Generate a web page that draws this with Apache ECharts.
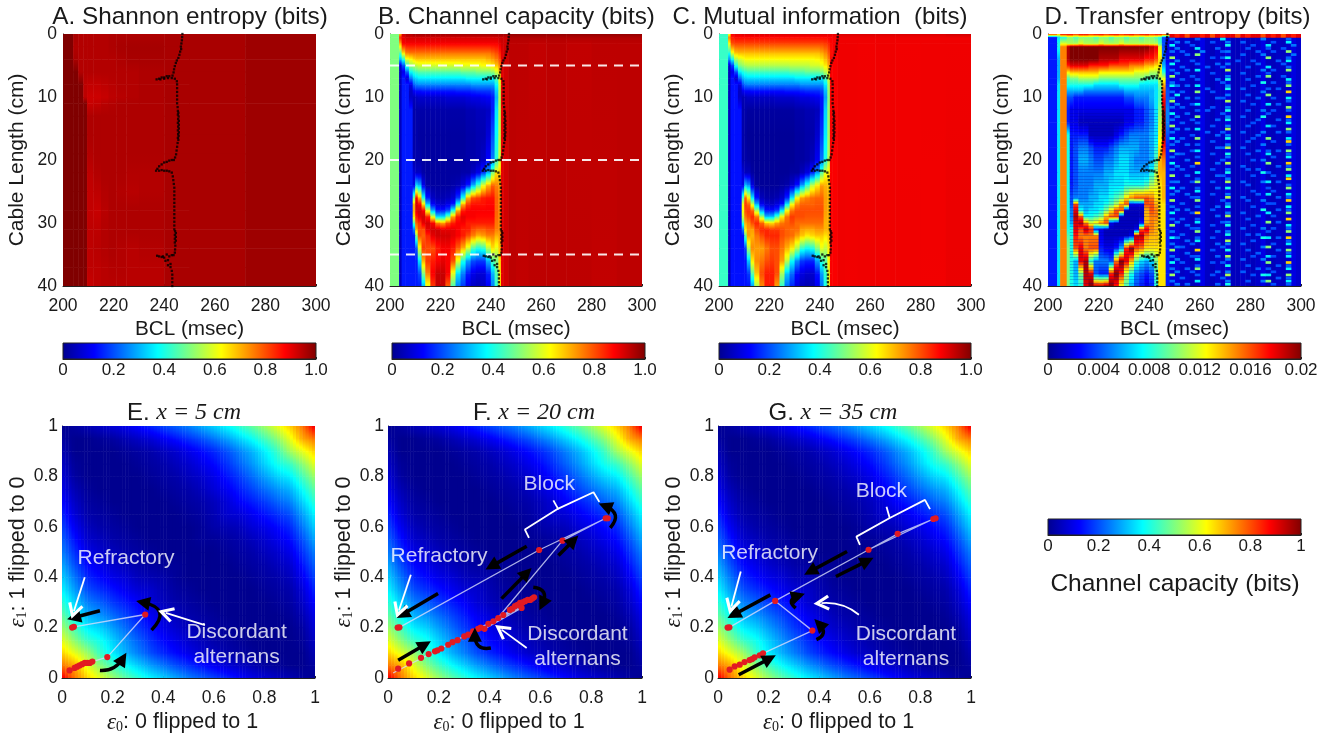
<!DOCTYPE html>
<html><head><meta charset="utf-8">
<style>html,body{margin:0;padding:0;background:#fff}#c{width:1343px;height:735px}</style>
<script src="https://cdn.jsdelivr.net/npm/echarts@6/dist/echarts.min.js"></script></head>
<body><div id="c"></div>
<script>
// ---------- DATA ----------
const panelTitles = ['A. Shannon entropy (bits)','B. Channel capacity (bits)','C. Mutual information  (bits)','D. Transfer entropy (bits)'];
const bclTicks = [200,300,20];
const cableTicks = [0,40,10];
// Panel A (percent of 1 bit)
const aX = [200,204,206,208,209.5,212,215,218,221,225,230,240,250,272,300];
const aY = [0,2,4,6,8,10,11,13,16,19,22,25,28,31,34,37,40];
const aM = [
[100,96,95,95,95,95,95,95.5,95.5,95.5,95.5,96,96,97],
[100,95,95,95,95,95,95,95.5,96,96.3,96.3,96,96,97],
[100,96,95,95,95,95,95,95,95.5,96,96,96,96,97],
[100,100,95,95,95,95,95,95,95,95,95.5,96,96,97],
[100,100,100,94,93.5,93.5,94,94.5,95,95,95.5,96,96,97],
[100,100,100,94,92.5,92.5,93,94,94.5,95,95.5,96,96,97],
[100,100,100,100,93,93.5,94.5,95,95.5,95.5,95.5,96,96,97],
[100,100,100,100,95.5,95.5,95.5,95.5,95.5,95.5,95.5,96,96,97],
[100,100,100,100,95.5,95.5,95.5,95.5,95.5,95.5,95.5,96,96,97],
[100,100,100,100,95,95.5,95.5,95.5,95.5,95.5,95.5,96,96,97],
[100,100,100,100,94,95,95.5,95.5,95.5,95,95,96,96,97],
[100,100,100,100,93.5,94,95,95.5,95,94.5,95,96,96,97],
[100,100,100,100,93.5,93,94.5,95.5,95.5,95.5,95.5,96,96,97],
[100,100,100,100,94,94,95,95.5,95.5,95.5,95.5,96,96,97],
[100,100,100,100,94,94.5,95,95.5,95,94.5,95,96,96,97],
[100,100,100,100,94,94,94.5,95,95,94.5,94.5,96,96,97],
[100,100,100,100,93,94,94.5,94.5,94.5,94.5,94.5,96,96,97]];
// Panels B and C share the sampling grid (percent of 1 bit)
const capX = [200,203.6,204.6,206,207.5,209,210,211,212.5,214,216,218,220,222,224,226,228,230,232,234,236,238,240,241.5,243,244,245];
const capY = [0,.5,1.5,3,4,5,6,7,8,9,10,12,16,20,22,24,26,27,28,29,30,31,32,34,36,38,40];
const bM = [
[50,70,92,95,95,97,97,97,97,97,97,97,97,97,97,97,97,97,97,97,97,97,97,97,97,97],
[50,85,90,92,92,92,92,92,92,92,92,92,92,92,92,92,92,92,92,92,92,92,92,92,93,93],
[50,70,88,88,88,88,88,88,88,88,88,88,88,88,88,88,88,88,88,88,88,88,88,88,90,92],
[50,45,65,75,76,76,76,76,76,76,76,76,76,76,76,76,76,76,76,76,76,76,78,80,84,90],
[50,30,40,60,62,66,68,68,68,68,68,68,68,68,68,68,68,68,68,68,68,70,72,75,80,90],
[50,8,20,42,52,54,56,58,58,58,58,58,58,58,58,58,60,60,60,60,62,62,64,68,75,90],
[50,5,10,22,38,42,44,46,46,46,46,46,46,46,46,46,48,48,48,50,50,50,52,58,68,90],
[50,5,15,8,24,32,34,36,36,36,36,36,36,36,36,36,36,38,38,38,38,38,38,46,62,90],
[50,5,15,15,10,22,25,26,26,26,26,26,26,26,26,26,26,26,28,28,28,28,28,38,58,90],
[50,5,15,15,6,12,14,14,15,15,15,15,15,15,15,16,16,16,17,18,18,18,20,33,55,90],
[50,5,15,15,6,5,6,7,7,7,7,7,7,8,8,8,8,9,10,10,11,12,15,30,54,90],
[50,5,15,15,15,3,3,3,3,3,3,3,3,3,3,3,3,4,4,5,5,6,15,35,55,90],
[50,5,15,15,15,3,3,2,2,2,2,2,2,2,2,2,2,3,3,4,4,8,20,38,56,90],
[50,5,15,15,15,3,3,3,2,2,2,2,2,2,2,2,2,3,3,4,6,12,25,42,58,90],
[50,5,15,15,15,8,6,6,3,2,2,2,2,2,2,2,3,3,6,10,18,30,50,65,68,90],
[50,5,15,15,15,10,35,30,10,3,2,2,2,2,3,4,8,15,30,45,60,70,78,75,72,90],
[50,5,15,15,15,50,88,70,40,15,6,4,4,5,8,18,40,70,80,82,85,86,86,78,74,90],
[50,5,15,15,15,70,92,88,65,32,12,8,7,10,15,40,70,82,86,86,86,87,87,78,74,90],
[50,5,15,15,15,70,90,92,88,60,30,15,15,20,40,70,85,88,88,88,88,88,88,78,74,90],
[50,5,15,15,15,65,85,90,92,85,60,35,35,50,72,85,90,88,88,87,87,87,87,77,74,90],
[50,5,15,15,15,45,78,82,90,92,88,75,72,80,85,88,88,85,85,85,85,85,85,76,74,90],
[50,5,15,15,15,25,70,80,80,90,92,92,90,90,90,88,85,85,80,78,78,80,80,75,74,90],
[50,5,15,15,15,15,50,80,78,84,90,92,92,92,90,88,85,80,75,70,72,75,75,70,72,90],
[50,5,15,15,15,15,20,60,82,80,80,85,88,88,85,78,70,58,45,40,42,55,65,60,68,90],
[50,5,15,15,15,15,15,35,70,82,85,88,90,88,80,60,40,28,20,18,18,30,45,50,66,90],
[50,5,15,15,15,15,15,20,50,75,88,93,93,88,60,35,25,15,10,8,8,15,30,45,64,90],
[50,5,15,15,15,15,15,15,30,60,82,93,93,78,45,25,18,10,6,5,6,12,25,42,64,90]];
const cM = [
[43,60,88,90,90,91,91,91,91,91,91,91,91,91,91,91,91,91,91,91,91,91,91,91,90,90],
[43,75,85,87,87,87,87,87,87,87,87,87,87,87,87,87,87,87,87,87,87,87,87,87,88,88],
[43,62,80,81,81,81,81,81,81,81,81,81,81,81,81,81,81,81,81,81,81,81,81,82,84,87],
[43,40,60,68,69,69,69,69,69,69,69,69,69,69,69,69,69,69,69,69,69,69,71,74,79,86],
[43,26,38,54,58,60,62,62,62,62,62,62,62,62,62,62,62,62,62,62,62,63,65,69,75,87],
[43,7,18,40,50,52,54,55,55,55,55,55,55,55,55,55,56,56,56,56,58,58,60,64,71,88],
[43,5,10,20,36,40,42,44,44,44,44,44,44,44,44,44,46,46,46,48,48,48,50,55,64,88],
[43,5,14,7,22,30,33,34,34,34,34,34,34,34,34,34,34,36,36,36,36,36,36,44,58,88],
[43,5,14,14,9,20,24,25,25,25,25,25,25,25,25,25,25,25,27,27,27,27,27,36,54,88],
[43,5,14,14,6,11,13,13,14,14,14,14,14,14,14,15,15,15,16,17,17,17,19,31,52,88],
[43,5,14,14,6,4,5,6,6,6,6,6,6,7,7,7,7,8,9,9,10,11,14,28,50,88],
[43,5,14,14,14,3,3,2,2,2,2,2,2,2,2,2,2,3,3,4,4,5,14,33,52,88],
[43,5,14,14,14,3,2,1,1,1,1,1,1,1,1,1,1,2,2,3,3,7,18,36,53,88],
[43,5,14,14,14,3,3,2,1,1,1,1,1,1,1,1,1,2,2,3,5,11,24,40,55,88],
[43,5,14,14,14,8,5,5,2,1,1,1,1,1,1,1,2,2,5,9,16,28,46,60,64,88],
[43,5,14,14,14,10,32,27,9,2,1,1,1,1,2,3,7,14,28,42,56,64,72,70,68,88],
[43,5,14,14,14,46,78,64,36,14,5,3,3,4,7,16,36,62,72,75,77,78,78,72,70,88],
[43,5,14,14,14,62,82,78,58,30,11,7,6,9,14,36,62,74,78,78,78,79,79,72,70,88],
[43,5,14,14,14,62,80,82,78,54,28,14,14,18,36,62,76,80,80,80,80,80,80,72,70,88],
[43,5,14,14,14,58,76,80,84,76,54,32,32,46,64,76,82,80,80,79,79,79,79,71,70,88],
[43,5,14,14,14,42,70,74,80,84,78,68,66,72,76,78,80,77,77,77,77,77,77,70,70,88],
[43,5,14,14,14,24,64,72,72,80,84,84,82,82,80,78,77,77,72,71,71,73,73,70,70,88],
[43,5,14,14,14,14,46,72,70,76,80,84,84,84,80,78,77,72,68,64,66,68,68,65,68,88],
[43,5,14,14,14,14,18,54,74,72,72,76,80,80,76,70,64,54,42,38,40,50,60,56,64,88],
[43,5,14,14,14,14,14,32,64,74,76,80,82,80,72,56,38,26,18,16,16,28,42,47,62,88],
[43,5,14,14,14,14,14,18,46,68,80,85,85,80,54,32,23,13,9,7,7,14,28,42,60,88],
[43,5,14,14,14,14,14,14,28,54,74,85,85,72,42,23,16,9,5,4,5,11,23,40,60,88]];
const rightX = [245,247,250,255,262,270,280,290,300];
const rightY = [0,.6,1.5,40];
const bRight = [[97,98,98,98,98,98,98,98],[92,95,95,95,95,95,95,95],[92,94,94,93.5,94,93.5,94,94],[92,94,93.5,94,94,94,93.5,94]];
const cRight = [[90,91,91,91,91,91,91,92],[88,89,89,89,89,89,89,89],[88,89,89,88.8,89,88.8,89,89],[88,89,88.8,89,89,89,88.8,89.5]];
// Panel D (1e-3 bits)
const dX = [200,203.6,204.8,207.4,208.6,210,212,214,216,218,220,222,224,226,228,230,232,234,236,238,240,242,243.5,245,246.5,248];
const dY = [0,.5,1.5,2,4,5,6,7,8,9,10,12,14,16,18,20,22,24,26,27,28,29,30,31,32,34,36,38,40];
const dM = [
[17,14,18,18,18,17,18,18,17,18,18,17,18,18,17,18,18,17,18,18,17,18,18,17,18],
[3,7,8,10,10,9,10,10,10,9,10,10,9,10,10,9,10,10,9,10,10,9,8,4,2],
[3,8,12,11,11,11,12,11,11,11,12,11,11,11,12,11,11,11,11,11,11,11,9,4,2],
[3,8,15,19,20,20,20,20,20,20,20,20,20,20,20,20,20,20,20,20,19,18,12,4,2],
[3,6,15,19,20,20,20,20,20,20,19,19,19,19,18,18,18,18,18,17,17,16,13,5,2],
[3,6,15,17,18,18,18,18,17,17,17,17,16,16,16,16,15,15,15,14,14,13,13,6,3],
[3,6,15,13,14,14,14,14,14,14,13,13,13,13,13,13,13,12,12,12,11,11,12,8,3],
[3,6,15,9,10,10,11,11,11,11,10,10,10,10,10,10,10,10,10,9,9,9,11,12,3],
[3,7,15,8,8,8,8,8,8,7,7,7,7,7,8,8,8,8,7,7,7,7,10,14,3],
[3,7,15,6,6,6,6,5,5,5,5,5,5,5,5,6,6,6,6,6,6,7,9,16,4],
[3,7,15,4,4,3,3,3,3,3,3,3,3,3,3,4,4,5,5,5,6,7,9,17,4],
[3,7,15,3,2,2,2,2,2,2,2,2,2,2,2,2,2,3,3,4,5,7,10,19,5],
[3,7,15,3,2,2,1,1,1,1,1,1,1,1,1,2,2,3,3,4,5,7,11,20,5],
[3,7,15,8,3,3,3,3,1,1,1,1,1,2,3,4,5,5,5,5,6,7,12,19,4],
[3,7,15,8,3,4,5,5,4,3,3,3,4,5,6,6,6,6,5,5,6,8,13,17,3],
[3,7,15,8,3,4,6,6,5,4,4,5,5,6,7,7,6,5,5,5,6,9,14,15,3],
[3,7,15,8,3,4,5,5,5,5,5,6,6,7,7,7,6,6,6,6,8,11,14,14,3],
[3,7,15,8,3,4,5,5,5,6,6,6,7,7,7,8,8,8,8,9,11,12,13,14,3],
[3,7,15,8,4,5,5,5,6,6,7,7,8,9,10,13,15,16,16,16,15,13,13,14,3],
[3,7,15,8,4,16,6,6,6,7,7,8,9,11,14,16,2,2,2,16,16,14,13,13,3],
[3,7,15,8,5,18,8,6,7,7,8,10,13,16,16,1,1,1,1,14,16,15,13,13,3],
[3,7,15,8,5,19,16,8,8,9,10,14,16,16,1,1,1,1,1,14,15,15,13,13,3],
[3,7,15,8,6,18,19,15,12,13,15,16,2,1,1,1,1,1,3,14,15,14,13,13,3],
[3,7,15,8,8,18,16,19,17,3,2,1,1,1,1,1,1,2,16,18,15,14,13,13,3],
[3,7,15,9,8,17,15,15,15,15,2,1,1,1,1,1,2,19,19,15,14,14,13,13,3],
[3,7,15,10,8,16,18,15,16,16,3,2,2,3,6,17,20,16,15,13,13,13,13,13,3],
[3,7,15,10,8,6,18,19,8,5,5,5,4,15,20,18,14,9,7,6,7,10,13,13,3],
[3,7,15,10,8,6,10,19,18,4,3,3,17,20,17,11,8,5,4,3,4,9,13,13,3],
[3,7,15,10,8,7,8,18,20,19,19,20,20,17,12,9,6,4,3,2,3,8,13,13,3]];
// Panel D, BCL 248-300: column base level (1e-3 bits) and speckle digit rows (1 level = 3e-3 bits)
const dColumnLevel = [1.6,1.8,1.2,1.4,1,1.2,2,1.2,1,1.4,1.2,1.9,1.1,1,1.3,1.1,1,1.3,1.9,1.1,1,1.2,1.1,1.3,1.8,1.4];
const dTopStrip = [18,17,18,16,18,18,17,18,16,18,17,18,18,16,18,17,18,18,16,18,17,18,16,18,17,18];
const dSpeckle = [
"10000100002000000010000100","01010000100100100000100200","20001000000200001002000010","01000200010000010001001000",
"10100010001100000100100300","00010300000000100010000010","30000000101200000003000100","01001000000001001000010200",
"20000100010100000100001000","00100001001000010002000100","10010200000300000010100300","01000000100000100001000000",
"30001000000100000103001000","00100100010200010000000200","10000000001000000020100100","21010200000100001000000300",
"00000001000200100001010000","10100300100000000010000400","02000000000100010003000000","10010100011000000100100200",
"30000000000300100000000100","01001200000000001002010000","10100000100100000000000300","00000101000200010010100100",
"20010000001000000001000000","01000300000100100020000400","10001000010200000100010100","00100100000000001000000200",
"30000000100100010002100000","01010200000300000000000300","10000001001000100010010100","00001000010100000100000000",
"20100300000200001003000200","01000000100000010000100400","10010100000100000010000100","00000000011300100000000000",
"30001200000000000101010300","01100000100200010002000100","10000100000100000000100200","00010000001000001010000000",
"20000400010300000003000400","01001000000000100000010100","10100000100100010100000300","00000200000200000021000000",
"30010000011000001000100200","00000100000100000000000400","11001300100300100012010000","00000000000000010000000100",
"20100100010200000001000300","01000200000000001000100000","10010000100100000102000200","00001100000300100000010100",
"30000300001000010010000400","00100000000100000001100000","10000100010200001000000200","01010000100000000020010100",
"20001400000100100002000300","00000000010300000100100000","10100100000000010000000400","01000200001100000003010000",
"30010000100200001000000200","00001100000000100010100100","10000300010100000001000300","00100000000200010100000000",
"21000100100000000022010400","00010200000300001000000100","10001000010100100000100200","01100000001000000013000000",
"30000400100200010000010300","00010000000000000100000100","10001100010300001002100200","01000200000100100010000000",
"20100000101000000003000400","00000100000200010000010100","10010300000000000101000200","01001000010100100000100000",
"30000100100300001022000300","00100000001000000000010100","10000200000100010013000200","01010000010200000000100100"];
// Fine horizontal banding seen in panel D's middle region [cm]
const dStripeY = [12,12.5,13,13.5,14,14.5,15,15.5,16,16.5,17,17.5,18,18.5,19,19.5,20,20.5,21,21.5,22,22.5,23,23.5,24,24.5,25,25.5,26,26.5,27,27.5,28,28.5,29,29.5,30,30.5,31,31.5,32,32.5,33,33.5,34,34.5,35,35.5,36,36.5,37,37.5,38,38.5,39,39.5];
// Colour bars
const barTicks = {'1.0':[0,1,.2],'.02':[0,.02,.004]};
// Block-boundary dots shared by panels A-D [BCL, cm]
const blockCurve = [[247.2,0],[247.1,.5],[247,1],[246.8,1.5],[246.6,2],[246.7,2.4],[246.3,2.8],[246,3.3],[245.6,3.8],[245,4.2],[244.6,4.6],[244.2,5.1],[243.9,5.6],[243.7,6.1],[243.3,6.6],[242,6.7],[241,6.7],[240,6.9],[239,6.9],[238,7.1],[237,7.2],[238.5,7.2],[240,7.1],[241.5,7],[243,7],[244.2,7.1],[245,7.5],[245.1,8],[245.1,8.6],[245.1,9.2],[245.1,9.8],[245.1,10.4],[245.1,11],[245.3,11.6],[245.4,12.2],[245.6,12.5],[245.4,12.8],[245.7,13.1],[245.5,13.5],[245.8,13.8],[245.4,14.1],[245.8,14.4],[245.5,14.7],[245.8,15],[245.4,15.3],[245.8,15.6],[245.5,15.9],[245.7,16.2],[245.4,16.5],[245.6,16.8],[245.3,17.3],[245.1,17.9],[244.9,18.5],[244.7,19.1],[244.3,19.6],[243.8,20],[243,20],[242,20.1],[241,20.3],[240,20.4],[239,20.7],[238,21],[237.3,21.4],[236.8,21.7],[238,21.7],[239,21.6],[240,21.7],[241,21.7],[242,21.8],[243,22],[243.4,22.6],[243.6,23.2],[243.8,23.8],[244,24.4],[244,25],[244,25.6],[244,26.2],[244,26.8],[244,27.4],[244,28],[244,28.6],[244,29.2],[244,29.8],[244,30.4],[244,31],[244.3,31.3],[244.6,31.6],[244.2,31.9],[244.6,32.2],[244.2,32.5],[244.6,32.8],[244.2,33.1],[244.4,33.6],[244.3,34.2],[244.2,34.7],[243.7,35.1],[243,35.1],[242,35.3],[241,35],[241.5,35.9],[240,35.5],[240.5,36],[239.5,35.3],[238,35.3],[237.2,35.2],[239,35.4],[242.5,36.5],[241.5,36.7],[242.5,37],[243,37.6],[243.2,38.2],[243.2,38.8],[243.2,39.4],[243.2,40]];
const sliceLevels = [5,20,35];
// Channel capacity over (eps0, eps1), sampled every 0.05 (percent of 1 bit)
const epsGrid = [0,.05,.1,.15,.2,.25,.3,.35,.4,.45,.5,.55,.6,.65,.7,.75,.8,.85,.9,.95,1];
const capSurface = [
[90,76,67,60,53,47,42,37,33,29,25,22,19,16,13,10,8,6,4,2,0],
[76,71,60,51,44,38,33,28,24,20,17,14,11,8,6,4,2,1,0,0,2],
[67,60,53,43,36,30,25,20,16,13,10,7,5,3,2,1,0,0,0,0,4],
[60,51,43,39,33,27,22,17,13,10,7,5,3,2,1,0,0,0,0,1,6],
[53,44,36,33,28,23,18,14,10,7,5,3,2,1,0,0,0,0,0,2,8],
[47,38,30,27,23,19,15,11,8,5,3,2,1,0,0,0,0,0,1,4,10],
[42,33,25,22,18,15,12,8,5,3,2,1,0,0,0,0,0,1,2,6,13],
[37,28,20,17,14,11,8,7,4,2,1,0,0,0,0,0,1,2,3,8,16],
[33,24,16,13,10,8,5,4,3,1,0,0,0,0,0,1,2,3,5,11,19],
[29,20,13,10,7,5,3,2,1,1,0,0,0,0,1,2,3,5,7,14,22],
[25,17,10,7,5,3,2,1,0,0,0,0,0,1,2,3,5,7,10,17,25],
[22,14,7,5,3,2,1,0,0,0,0,1,1,2,3,5,7,10,13,20,29],
[19,11,5,3,2,1,0,0,0,0,0,1,3,4,5,8,10,13,16,24,33],
[16,8,3,2,1,0,0,0,0,0,1,2,4,7,8,11,14,17,20,28,37],
[13,6,2,1,0,0,0,0,0,1,2,3,5,8,12,15,18,22,25,33,42],
[10,4,1,0,0,0,0,0,1,2,3,5,8,11,15,19,23,27,30,38,47],
[8,2,0,0,0,0,0,1,2,3,5,7,10,14,18,23,28,33,36,44,53],
[6,1,0,0,0,0,1,2,3,5,7,10,13,17,22,27,33,39,43,51,60],
[4,0,0,0,0,1,2,3,5,7,10,13,16,20,25,30,36,43,53,60,67],
[2,0,0,1,2,4,6,8,11,14,17,20,24,28,33,38,44,51,60,71,76],
[0,2,4,6,8,10,13,16,19,22,25,29,33,37,42,47,53,60,67,76,90]];
// Operating points [eps0, eps1]
const redE = [[.03,.03],[.05,.04],[.06,.045],[.07,.05],[.08,.055],[.09,.06],[.1,.06],[.11,.06],[.12,.065],[.179,.083],[.329,.252],[.047,.203],[.04,.2]];
const pathE = [[.03,.03],[.12,.065],[.179,.083],[.329,.252],[.047,.203]];
const redF = [[.04,.037],[.083,.058],[.13,.08],[.16,.095],[.185,.106],[.195,.11],[.21,.117],[.237,.132],[.254,.142],[.274,.15],[.3,.165],[.316,.172],[.335,.185],[.355,.195],[.365,.2],[.38,.195],[.395,.215],[.415,.225],[.434,.238],[.454,.25],[.48,.27],[.49,.275],[.5,.285],[.51,.29],[.52,.298],[.53,.3],[.54,.305],[.55,.31],[.56,.31],[.568,.315],[.575,.32],[.526,.278],[.595,.508],[.687,.545],[.857,.634],[.865,.634],[.045,.201],[.038,.2]];
const pathF = [[.02,.02],[.365,.2],[.575,.32],[.38,.195],[.526,.278],[.434,.24],[.687,.545],[.857,.634],[.595,.508],[.045,.201]];
const redG = [[.046,.033],[.066,.046],[.086,.053],[.105,.063],[.125,.071],[.135,.075],[.145,.082],[.165,.09],[.178,.098],[.373,.188],[.226,.306],[.045,.201],[.038,.2],[.595,.509],[.71,.572],[.851,.631],[.86,.634]];
const pathG = [[.046,.033],[.178,.098],[.373,.188],[.226,.306],[.595,.509],[.851,.631],[.71,.572],[.595,.509],[.226,.306],[.045,.201]];
// Annotations [x0,y0,x1,y1,curveness]
const blackE = [[.15,.03,.24,.077,-.3],[.354,.19,.32,.3,-.9],[.15,.267,.047,.24,0]];
const whiteE = [[.09,.40,.047,.265,0],[.565,.21,.41,.258,0]];
const blackF = [[.04,.07,.145,.132,0],[.405,.119,.342,.172,.6],[.447,.315,.546,.417,0],[.572,.36,.608,.294,.7],[.671,.486,.73,.546,0],[.875,.596,.855,.682,-.7],[.546,.523,.408,.444,0],[.197,.335,.057,.252,0]];
const whiteF = [[.09,.41,.043,.268,0],[.546,.119,.447,.192,0]];
const blackG = [[.082,.013,.204,.077,0],[.389,.152,.40,.214,-.7],[.466,.403,.59,.465,0],[.51,.502,.365,.423,0],[.307,.277,.317,.326,.9],[.207,.33,.062,.251,0]];
const whiteG = [[.09,.423,.053,.284,0],[.557,.251,.409,.297,-.2]];
const bracketF = [[.555,.556],[.539,.589],[.664,.669],[.809,.737],[.832,.699]];
const bracketTickF = [[.651,.705],[.671,.669]];
const bracketG = [[.561,.528],[.547,.561],[.677,.634],[.818,.707],[.838,.67]];
const bracketTickG = [[.666,.68],[.679,.634]];
const textE = [['Refractory',.253,.475],['Discordant',.69,.18],['alternans',.69,.083]];
const textF = [['Block',.635,.771],['Refractory',.201,.483],['Discordant',.746,.172],['alternans',.746,.073]];
const textG = [['Block',.646,.742],['Refractory',.204,.495],['Discordant',.743,.172],['alternans',.743,.073]];

// ---------- STYLE / LAYOUT ----------
const SANS='"Liberation Sans",Arial,sans-serif', SERIF='"Liberation Serif","Times New Roman",serif';
const jetS=[0,.125,.375,.625,.875,1], jetC=[[0,0,143],[0,0,255],[0,255,255],[255,255,0],[255,0,0],[128,0,0]];
function jet(v){v=Math.max(0,Math.min(1,v));let i=0;while(i<4&&v>jetS[i+1])i++;const t=(v-jetS[i])/(jetS[i+1]-jetS[i]);
  const c=jetC[i].map((a,k)=>Math.round(a+(jetC[i+1][k]-a)*t));return `rgb(${c[0]},${c[1]},${c[2]})`;}
function ramp(a,b){ if(a===b)return jet(a); const s=[];const n=6;for(let k=0;k<=n;k++)s.push({offset:k/n,color:jet(a+(b-a)*k/n)});
  return new echarts.graphic.LinearGradient(0,0,0,1,s);}
function renderCell(p,api){
  const a=api.coord([api.value(0),api.value(1)]),b=api.coord([api.value(2),api.value(3)]);
  const x=Math.min(a[0],b[0]),y=Math.min(a[1],b[1]),w=Math.abs(a[0]-b[0]),h=Math.abs(a[1]-b[1]);
  return {type:'rect',silent:true,shape:{x:x,y:y,width:w+.5,height:h+.5},style:{fill:ramp(api.value(4),api.value(5)),stroke:null}};
}
// smooth (bilinear) shading of one surface cell between its four read corners
function renderSurface(p,api){
  const a=api.coord([api.value(0),api.value(1)]),b=api.coord([api.value(2),api.value(3)]);
  const v00=api.value(4),v10=api.value(5),v01=api.value(6),v11=api.value(7),n=4,ch=[];
  for(let k=0;k<n;k++){const t=(k+.5)/n,vb=v00+(v10-v00)*t,vt=v01+(v11-v01)*t;
    ch.push({type:'rect',silent:true,shape:{x:a[0]+(b[0]-a[0])*k/n,y:b[1],width:(b[0]-a[0])/n+.5,height:a[1]-b[1]+.5},style:{fill:ramp(vt,vb),stroke:null}});}
  return {type:'group',children:ch};
}
function cols(X,Y,M,sc){const o=[];for(let j=0;j<Y.length-1;j++)for(let i=0;i<X.length-1;i++)o.push([X[i],Y[j],X[i+1],Y[j+1],M[j][i]/sc,M[j+1][i]/sc]);return o;}
function heat(g,d,r,z){return {type:'custom',coordinateSystem:'cartesian2d',xAxisIndex:g,yAxisIndex:g,data:d,renderItem:r||renderCell,encode:{x:[0,2],y:[1,3]},silent:true,z:z||1,animation:false,clip:true};}

const grids=[],xAxes=[],yAxes=[],series=[],titles=[];
const col='#1a1a1a';
function addGrid(l,t,w,h,xa,ya){grids.push({left:l,top:t,width:w,height:h,show:false});const i=grids.length-1;xAxes.push(Object.assign({gridIndex:i},xa));yAxes.push(Object.assign({gridIndex:i},ya));return i;}
const baseLabel={color:col,fontFamily:SANS,fontSize:17.5,hideOverlap:false,showMinLabel:true,showMaxLabel:true};
const baseAxis={type:'value',scale:false,splitLine:{show:false},axisLine:{show:true,onZero:false,lineStyle:{color:'#222',width:1}},axisTick:{show:true,inside:true,length:2,lineStyle:{color:'#222'}}};
function topPanel(l,w){return addGrid(l,34,w,252,
 Object.assign({},baseAxis,{min:bclTicks[0],max:bclTicks[1],interval:bclTicks[2],axisLabel:Object.assign({},baseLabel,{margin:11}),name:'BCL (msec)',nameLocation:'middle',nameGap:33,nameTextStyle:{color:col,fontFamily:SANS,fontSize:20.7}}),
 Object.assign({},baseAxis,{inverse:true,min:cableTicks[0],max:cableTicks[1],interval:cableTicks[2],axisLabel:Object.assign({},baseLabel,{margin:6}),name:'Cable Length (cm)',nameLocation:'middle',nameGap:35,nameTextStyle:{color:col,fontFamily:SANS,fontSize:21}}));}
function overlayDots(g){series.push({type:'scatter',xAxisIndex:g,yAxisIndex:g,data:blockCurve,symbol:'rect',symbolSize:2.3,itemStyle:{color:'#000'},silent:true,z:5,animation:false});}
const gA=topPanel(63,253),gB=topPanel(390,252),gC=topPanel(719,252),gD=topPanel(1048,253);
series.push(heat(gA,cols(aX,aY,aM,100)));
series.push(heat(gB,cols(capX,capY,bM,100).concat(cols(rightX,rightY,bRight,100))));
series.push(heat(gC,cols(capX,capY,cM,100).concat(cols(rightX,rightY,cRight,100))));
// panel D
const dCells=cols(dX,dY,dM,20);
const spH=(40-.6)/dSpeckle.length, spW=2;
dTopStrip.forEach((v,i)=>dCells.push([248+i*spW,0,248+(i+1)*spW,.6,v/20,v/20]));
dColumnLevel.forEach((v,i)=>dCells.push([248+i*spW,.6,248+(i+1)*spW,40,v/20,v/20]));
dSpeckle.forEach((r,j)=>{for(let i=0;i<r.length;i++){if(r[i]==='0')continue;const v=(dColumnLevel[i]+3*(+r[i]))/20;dCells.push([248+i*spW,.6+j*spH,248+(i+1)*spW,.6+(j+.7)*spH,v,v]);}});
series.push(heat(gD,dCells));
series.push({type:'lines',coordinateSystem:'cartesian2d',xAxisIndex:gD,yAxisIndex:gD,data:dStripeY.map(y=>({coords:[[208.6,y],[243.5,y]]})),lineStyle:{color:'#000090',width:1,opacity:.22},silent:true,z:2,animation:false});
[gA,gB,gC,gD].forEach(overlayDots);
sliceLevels.forEach(lv=>series.push({type:'line',xAxisIndex:gB,yAxisIndex:gB,data:[[200,lv],[300,lv]],symbol:'none',lineStyle:{color:'rgba(255,255,255,.9)',width:2,type:[9,7]},silent:true,z:4,animation:false}));
[[185,panelTitles[0],24.3],[511.5,panelTitles[1],24.3],[815,panelTitles[2],24],[1172.5,panelTitles[3],24]].forEach(t=>titles.push({text:t[1],left:t[0],top:0,textAlign:'center',textStyle:{fontFamily:SANS,fontSize:t[2],fontWeight:'normal',color:col}}));

// colour bars
function cbar(l,t,w,tick,fmt){const i=addGrid(l,t,w,16,
 Object.assign({},baseAxis,{min:tick[0],max:tick[1],interval:tick[2],axisLabel:Object.assign({},baseLabel,{margin:3,fontSize:17,formatter:fmt})}),
 {type:'value',min:0,max:1,show:false});
 series.push({type:'custom',coordinateSystem:'cartesian2d',xAxisIndex:i,yAxisIndex:i,data:[[tick[0],tick[1]]],silent:true,animation:false,z:1,encode:{x:[0,1]},
  renderItem:function(p,api){const a=api.coord([api.value(0),0]),b=api.coord([api.value(1),1]);
   return {type:'rect',shape:{x:a[0],y:b[1],width:b[0]-a[0],height:a[1]-b[1]},style:{fill:new echarts.graphic.LinearGradient(0,0,1,0,jetS.map((s,k)=>({offset:s,color:`rgb(${jetC[k].join(',')})`}))),stroke:'#222',lineWidth:1}};}});}
const f1=v=>v===1?'1.0':String(v), f2=v=>String(+v.toFixed(3)), f3=v=>String(+v.toFixed(1));
cbar(63,343,253,barTicks['1.0'],f1);cbar(392,343,253,barTicks['1.0'],f1);cbar(719,343,252,barTicks['1.0'],f1);cbar(1048,343,253,barTicks['.02'],f2);cbar(1048,519,253,barTicks['1.0'],f3);
titles.push({text:'Channel capacity (bits)',left:1170,top:567,textAlign:'center',textStyle:{fontFamily:SANS,fontSize:24.5,fontWeight:'normal',color:col}});

// E-G
function surfaceCells(){const o=[];const n=epsGrid.length;
 for(let j=0;j<n-1;j++)for(let i=0;i<n-1;i++)o.push([epsGrid[i],epsGrid[j],epsGrid[i+1],epsGrid[j+1],capSurface[j][i]/100,capSurface[j][i+1]/100,capSurface[j+1][i]/100,capSurface[j+1][i+1]/100]);
 return o;}
const surf=surfaceCells();
const epsNameRich={i:{fontFamily:SERIF,fontStyle:'italic',fontSize:23,color:col},s:{fontFamily:SERIF,fontSize:14,color:col,verticalAlign:'bottom',padding:[9,0,0,0]},t:{fontFamily:SANS,fontSize:21.5,color:col}};
function bottomPanel(l,w,tt,cx,red,path,blk,wht,txt,br,brT){
 const epsA={min:0,max:1,interval:.2,nameLocation:'middle',nameTextStyle:{rich:epsNameRich}};
 const axf=v=>String(+v.toFixed(1));
 const g=addGrid(l,426,w,252,
  Object.assign({},baseAxis,epsA,{name:'{i|ε}{s|0}{t|: 0 flipped to 1  }',nameGap:33,axisLabel:Object.assign({},baseLabel,{margin:11,formatter:axf})}),
  Object.assign({},baseAxis,epsA,{name:'{i|ε}{s|1}{t|: 1 flipped to 0}',nameGap:25,axisLabel:Object.assign({},baseLabel,{margin:4,formatter:axf})}));
 series.push(heat(g,surf,renderSurface,1));
 series.push({type:'line',xAxisIndex:g,yAxisIndex:g,data:path,symbol:'none',lineStyle:{color:'rgba(215,220,250,.8)',width:1.3},silent:true,z:3,animation:false});
 series.push({type:'scatter',xAxisIndex:g,yAxisIndex:g,data:red,symbolSize:6.2,itemStyle:{color:'#e21a22',opacity:1},silent:true,z:4,animation:false});
 const mk=a=>a.map(r=>({coords:[[r[0],r[1]],[r[2],r[3]]],lineStyle:{curveness:r[4]}}));
 series.push({type:'lines',coordinateSystem:'cartesian2d',xAxisIndex:g,yAxisIndex:g,data:mk(blk),symbol:['none','triangle'],symbolSize:[12,14],lineStyle:{color:'#000',width:3.5,opacity:1},silent:true,z:6,animation:false});
 series.push({type:'lines',coordinateSystem:'cartesian2d',xAxisIndex:g,yAxisIndex:g,data:mk(wht),symbol:['none','path://M-6,9 L0,0 L6,9 L4,10 L0,4 L-4,10 Z'],symbolSize:[16,16],lineStyle:{color:'#fff',width:1.8,opacity:1},silent:true,z:6,animation:false});
 if(br){[br,brT].forEach(b=>series.push({type:'line',xAxisIndex:g,yAxisIndex:g,data:b,symbol:'none',lineStyle:{color:'#fff',width:1.8},silent:true,z:6,animation:false}));}
 series.push({type:'scatter',xAxisIndex:g,yAxisIndex:g,data:txt.map(t=>({name:t[0],value:[t[1],t[2]]})),symbolSize:1,itemStyle:{color:'rgba(0,0,0,0)'},silent:true,z:7,animation:false,
  label:{show:true,position:'inside',formatter:'{b}',color:'#fff',fontFamily:SANS,fontSize:21}});
 titles.push({text:tt,left:cx,top:396,textAlign:'center',textStyle:{rich:{a:{fontFamily:SANS,fontSize:24,fontWeight:'normal',color:col},b:{fontFamily:SERIF,fontStyle:'italic',fontWeight:'normal',fontSize:24,color:col}}}});
}
bottomPanel(62,253,'{a|E. }{b|x = 5 cm}',179,redE,pathE,blackE,whiteE,textE);
bottomPanel(388,254,'{a|F. }{b|x = 20 cm}',529,redF,pathF,blackF,whiteF,textF,bracketF,bracketTickF);
bottomPanel(718,253,'{a|G. }{b|x = 35 cm}',828,redG,pathG,blackG,whiteG,textG,bracketG,bracketTickG);

const chart=echarts.init(document.getElementById('c'),null,{renderer:'canvas'});
chart.setOption({animation:false,backgroundColor:'#fff',title:titles,grid:grids,xAxis:xAxes,yAxis:yAxes,series:series,tooltip:{show:false}});
</script></body></html>
